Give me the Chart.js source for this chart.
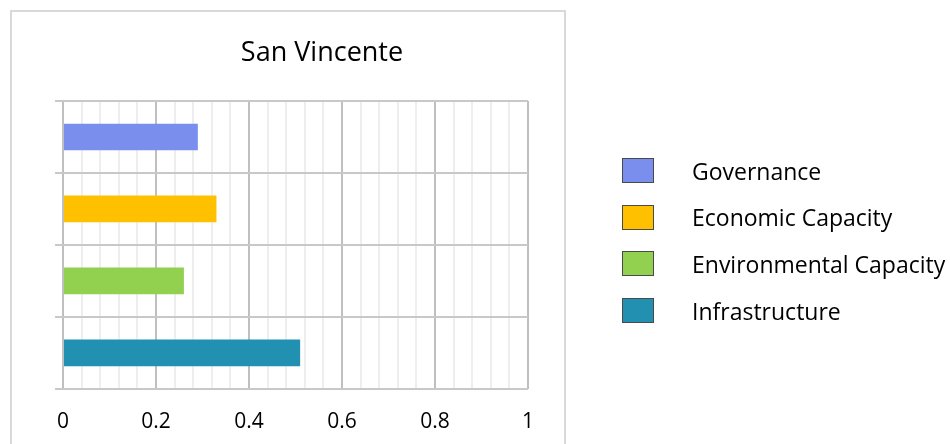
<!DOCTYPE html>
<html>
<head>
<meta charset="utf-8">
<script src="https://cdn.jsdelivr.net/npm/chart.js@4"></script>
<style>
  html, body { margin: 0; padding: 0; background: #fff; }
  body { width: 950px; height: 444px; position: relative; overflow: hidden; font-family: "Open Sans", sans-serif; }
  #frame { position: absolute; left: 10px; top: 10px; width: 552px; height: 460px; border: 2px solid #d9d9d9; }
  #title { position: absolute; left: 222px; top: 33px; width: 200px; text-align: center; font-size: 27px; color: #000; line-height: 36px; }
  #chartBox { position: absolute; left: 0; top: 0; width: 950px; height: 469px; }
  #legend { position: absolute; left: 622px; top: 158px; margin: 0; padding: 0; list-style: none; }
  #legend li { height: 25px; margin-bottom: 21.7px; display: flex; align-items: center; font-size: 23px; color: #000; white-space: nowrap; }
  #legend span.box { width: 30px; height: 23px; border: 1px solid #4a4a4a; margin-right: 38px; flex: none; }
</style>
</head>
<body>
<div id="frame"></div>
<div id="chartBox"><canvas id="chart" width="950" height="469"></canvas></div>
<div id="title"></div>
<ul id="legend"></ul>
<script>
  const chartTitle = "San Vincente";
  const categories = ["Governance", "Economic Capacity", "Environmental Capacity", "Infrastructure"];
  const values = [0.29, 0.33, 0.26, 0.51];
  const barColors = ["#7a8fed", "#ffc000", "#92d050", "#2290b0"];
  const xTickLabels = ["0", "0.2", "0.4", "0.6", "0.8", "1"];

  document.getElementById("title").textContent = chartTitle;

  // legend built from the same arrays
  const legendList = document.getElementById("legend");
  categories.forEach((name, i) => {
    const li = document.createElement("li");
    const box = document.createElement("span");
    box.className = "box";
    box.style.background = barColors[i];
    li.appendChild(box);
    li.appendChild(document.createTextNode(name));
    legendList.appendChild(li);
  });

  const ctx = document.getElementById("chart").getContext("2d");

  new Chart(ctx, {
    type: "bar",
    data: {
      labels: categories,
      datasets: [
        {
          data: values,
          backgroundColor: barColors,
          borderWidth: 0,
          categoryPercentage: 1,
          barPercentage: 0.37,
        },
      ],
    },
    options: {
      indexAxis: "y",
      responsive: false,
      animation: false,
      layout: {
        padding: { left: 55, top: 101, right: 422, bottom: 13 },
      },
      plugins: {
        legend: { display: false },
        title: { display: false },
        tooltip: { enabled: false },
      },
      scales: {
        x: {
          type: "linear",
          min: 0,
          max: 1,
          border: { display: false },
          grid: {
            drawTicks: false,
            lineWidth: 2,
            color: (c) => (c.index % 5 === 0 ? "#bfbfbf" : "#eeeeee"),
          },
          ticks: {
            stepSize: 0.04,
            autoSkip: false,
            maxRotation: 0,
            padding: 21,
            color: "#000",
            font: { family: "Open Sans", size: 21 },
            callback: (value, index) => (index % 5 === 0 ? xTickLabels[index / 5] : ""),
          },
        },
        y: {
          border: { display: false },
          grid: {
            offset: true,
            color: "#c8c8c8",
            lineWidth: 2,
            tickLength: 8,
          },
          ticks: { display: false },
        },
      },
    },
  });
</script>
</body>
</html>
